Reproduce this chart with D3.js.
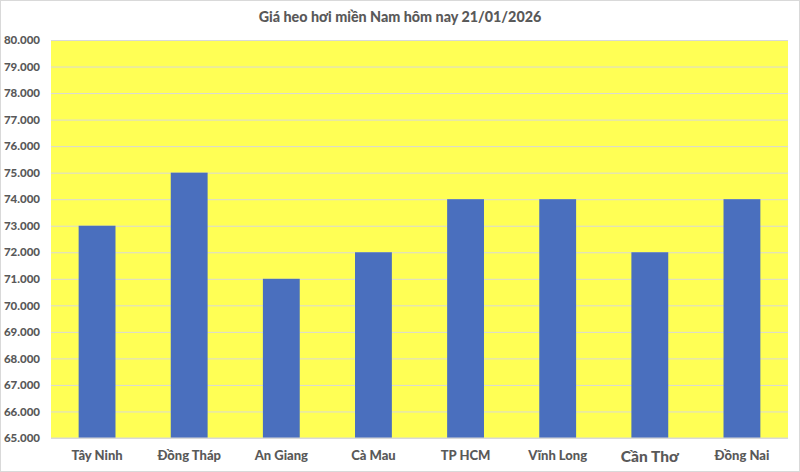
<!DOCTYPE html>
<html><head><meta charset="utf-8">
<script src="https://cdn.jsdelivr.net/npm/d3@7"></script>
<style>body{margin:0;background:#fff}svg{display:block}</style>
</head><body>
<svg id="c" width="800" height="472"></svg>
<script>
const title = "Giá heo hơi miền Nam hôm nay 21/01/2026";
const categories = ["Tây Ninh","Đồng Tháp","An Giang","Cà Mau","TP HCM","Vĩnh Long","Cần Thơ","Đồng Nai"];
const values = [73000,75000,71000,72000,74000,74000,72000,74000];
const yTicks = [65000,66000,67000,68000,69000,70000,71000,72000,73000,74000,75000,76000,77000,78000,79000,80000];

const svg = d3.select("#c");
const W=800,H=472;
const m={l:51,r:12,t:40,b:34};
const font="Lato, 'Open Sans', sans-serif";
svg.append("rect").attr("x",0.5).attr("y",0.5).attr("width",W-1).attr("height",H-1).attr("fill","#fff").attr("stroke","#d9d9d9");

const x=d3.scaleBand().domain(categories).range([m.l,W-m.r]).paddingInner(0.6).paddingOuter(0.3);
const y=d3.scaleLinear().domain([65000,80000]).range([H-m.b,m.t]);
const loc=d3.formatLocale({decimal:",",thousands:".",grouping:[3],currency:["",""]});
const fmt=loc.format(",d");

svg.append("rect").attr("x",m.l).attr("y",m.t).attr("width",W-m.r-m.l).attr("height",H-m.b-m.t).attr("fill","#ffff55");

const ya=svg.append("g").attr("transform",`translate(${m.l},0)`)
 .call(d3.axisLeft(y).tickValues(yTicks).tickFormat(fmt).tickSize(-(W-m.r-m.l)).tickPadding(11));
ya.select(".domain").remove();
ya.selectAll(".tick line").attr("stroke","#d9d9d9").attr("stroke-width",1);
ya.selectAll("text").attr("fill","#595959").style("font-family",font).style("font-size","11.5px").style("font-weight","900");

svg.append("g").selectAll("rect").data(values).join("rect")
 .attr("x",(d,i)=>x(categories[i])).attr("width",x.bandwidth())
 .attr("y",d=>y(d)).attr("height",d=>y(65000)-y(d)).attr("fill","#4a6fbe");

svg.append("line").attr("x1",m.l).attr("x2",W-m.r).attr("y1",y(65000)).attr("y2",y(65000)).attr("stroke","#d9d9d9");

const xa=svg.append("g").attr("transform",`translate(0,${H-m.b})`).call(d3.axisBottom(x).tickSize(0).tickPadding(13));
xa.select(".domain").remove();
xa.selectAll("text").attr("fill","#595959").style("font-family",font).style("font-size",d=>d==="Cần Thơ"?"15.5px":"13px").style("font-weight","900");

svg.append("text").attr("x",400).attr("y",22).attr("text-anchor","middle").attr("fill","#595959")
 .style("font-family",font).style("font-size","14.3px").style("font-weight","900").text(title);
</script>
</body></html>
